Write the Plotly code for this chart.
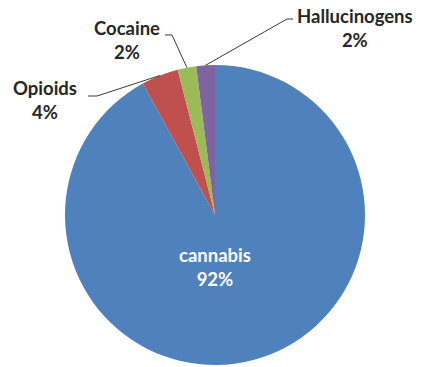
import math
import plotly.graph_objects as go

labels = ["cannabis", "Opioids", "Cocaine", "Hallucinogens"]
values = [92, 4, 2, 2]
colors = ["#4F81BD", "#C0504D", "#9BBB59", "#8064A2"]

W, H = 426, 367
CX, CY, R = 215, 215, 150  # pie centre / radius in pixels (layout)

# label anchor (text centre) and elbow points, pixels (layout)
label_pos = {
    "Opioids": dict(text=(45, 100), elbow=(97, 96), end=(88, 96)),
    "Cocaine": dict(text=(127, 40), elbow=(172, 35), end=(165, 35)),
    "Hallucinogens": dict(text=(355, 28), elbow=(287, 19), end=(293, 19)),
}

def px(x):
    return x / W

def py(y):
    return 1 - y / H

fig = go.Figure(go.Pie(
    labels=labels, values=values, sort=False, direction="clockwise",
    rotation=0, marker=dict(colors=colors, line=dict(width=0)),
    textinfo="none", hoverinfo="label+percent", showlegend=False,
    domain=dict(x=[px(CX - R), px(CX + R)], y=[py(CY + R), py(CY - R)]),
))

total = sum(values)
cum = 0
annotations = []
shapes = []
font = dict(family="Lato, Open Sans, sans-serif", size=18.5, color="#262626")
for lab, v in zip(labels, values):
    pct = round(100 * v / total)
    mid = (cum + v / 2) / total * 2 * math.pi
    cum += v
    if lab == "cannabis":
        annotations.append(dict(
            x=px(CX), y=py(267), xref="paper", yref="paper",
            text=f"<b>{lab}<br>{pct}%</b>", showarrow=False,
            font=dict(family=font["family"], size=18.5, color="white"),
            xanchor="center", yanchor="middle"))
        continue
    ex = CX + R * math.sin(mid)
    ey = CY - R * math.cos(mid)
    lp = label_pos[lab]
    path = (f"M {px(ex)},{py(ey)} L {px(lp['elbow'][0])},{py(lp['elbow'][1])} "
            f"L {px(lp['end'][0])},{py(lp['end'][1])}")
    shapes.append(dict(type="path", path=path, xref="paper", yref="paper",
                       line=dict(color="#3a3a3a", width=1)))
    annotations.append(dict(
        x=px(lp["text"][0]), y=py(lp["text"][1]), xref="paper", yref="paper",
        text=f"<b>{lab}<br>{pct}%</b>", showarrow=False, font=font,
        xanchor="center", yanchor="middle"))

fig.update_layout(
    width=W, height=H, margin=dict(l=0, r=0, t=0, b=0),
    paper_bgcolor="white", plot_bgcolor="white",
    annotations=annotations, shapes=shapes,
)

fig.write_html("out.html")
